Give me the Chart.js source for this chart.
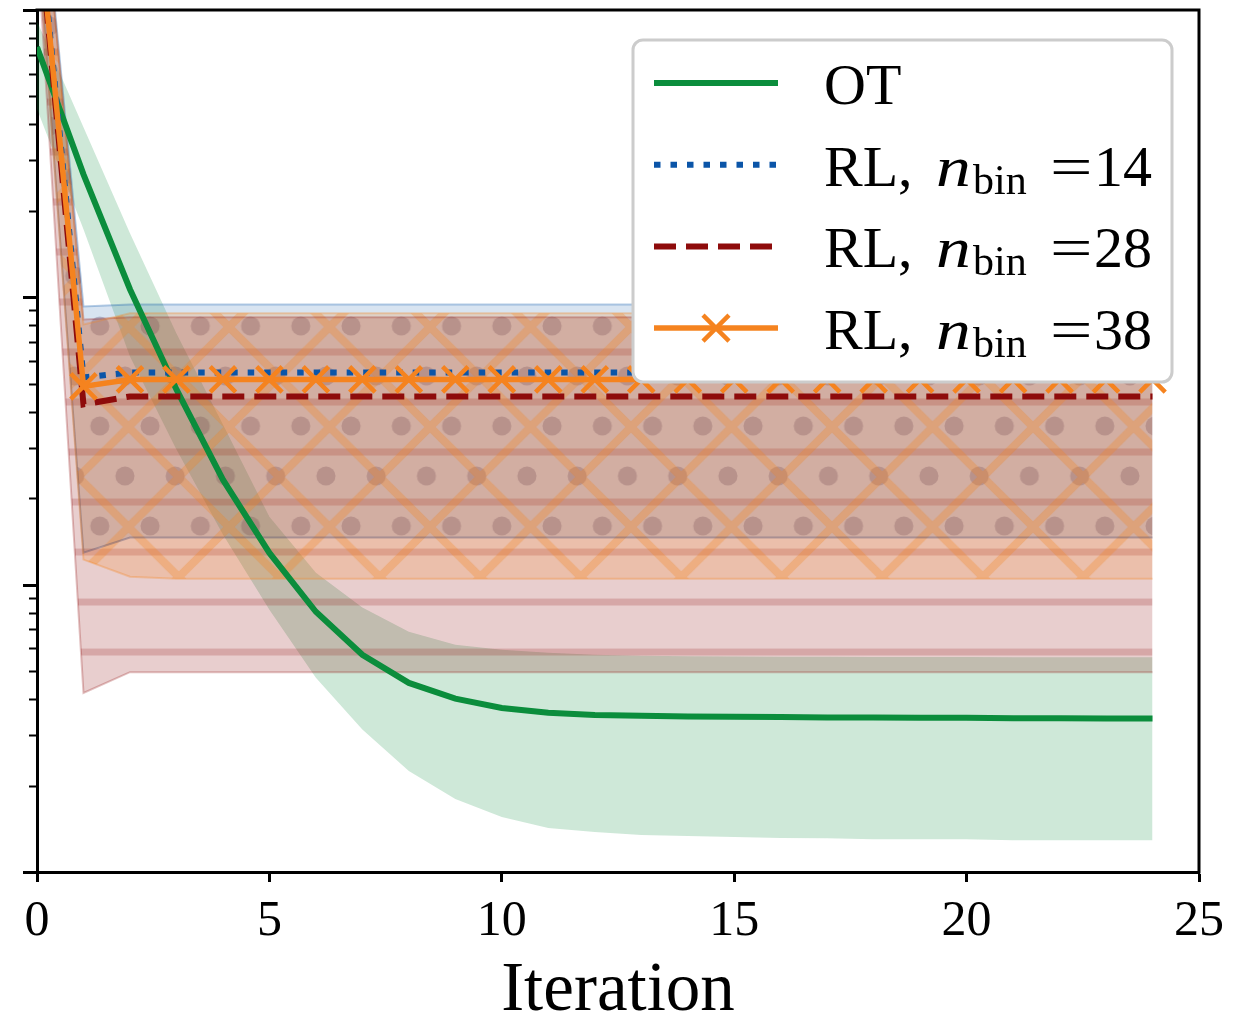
<!DOCTYPE html>
<html>
<head>
<meta charset="utf-8">
<script src="https://cdn.jsdelivr.net/npm/chart.js@4.4.1/dist/chart.umd.min.js"></script>
<style>
  html, body { margin: 0; padding: 0; background: #fff; }
  #wrap { width: 1239px; height: 1017px; position: relative; }
</style>
</head>
<body>
<div id="wrap"><canvas id="chart"></canvas></div>
<script>
const FONT = "'Liberation Serif', 'Times New Roman', serif";

// x axis: iteration index, y axis: log scale over three decades
const iterations = [0, 1, 2, 3, 4, 5, 6, 7, 8, 9, 10, 11, 12, 13, 14, 15, 16, 17, 18, 19, 20, 21, 22, 23, 24];
const xTicks = [0, 5, 10, 15, 20, 25];
const yDecades = [0.001, 0.01, 0.1, 1];
const binCounts = [14, 28, 38];

// OT: mean and spread
const otMean = [0.743, 0.268, 0.1067, 0.0478, 0.0232, 0.0129, 0.00805, 0.0057, 0.00455, 0.00401, 0.00372, 0.00358, 0.00352, 0.00350, 0.00348, 0.00347, 0.00346, 0.00345, 0.00345, 0.00344, 0.00344, 0.00343, 0.00343, 0.00342, 0.00342];
const otHigh = [0.915, 0.391, 0.167, 0.0749, 0.0361, 0.01725, 0.01101, 0.00832, 0.00686, 0.00618, 0.00594, 0.00580, 0.00570, 0.00566, 0.00563, 0.00562, 0.00561, 0.00561, 0.00560, 0.00560, 0.00560, 0.00559, 0.00559, 0.00559, 0.00559];
const otLow = [0.452, 0.1726, 0.0623, 0.02955, 0.01494, 0.00818, 0.00474, 0.00313, 0.002247, 0.001796, 0.001554, 0.001423, 0.001378, 0.001346, 0.001335, 0.001324, 0.001313, 0.00131, 0.00130, 0.00130, 0.00130, 0.00129, 0.00129, 0.00129, 0.00129];

// RL, n_bin = 14
const rl14Mean = [2.4, 0.0526, 0.0548, 0.0548, 0.0548, 0.0548, 0.0548, 0.0548, 0.0548, 0.0548, 0.0548, 0.0548, 0.0548, 0.0548, 0.0548, 0.0548, 0.0548, 0.0548, 0.0548, 0.0548, 0.0548, 0.0548, 0.0548, 0.0548, 0.0548];
const rl14High = [4.5, 0.0930, 0.0945, 0.0945, 0.0945, 0.0945, 0.0945, 0.0945, 0.0945, 0.0945, 0.0945, 0.0945, 0.0945, 0.0945, 0.0945, 0.0945, 0.0945, 0.0945, 0.0945, 0.0945, 0.0945, 0.0945, 0.0945, 0.0945, 0.0945];
const rl14Low = [1.9, 0.01293, 0.01459, 0.01459, 0.01459, 0.01459, 0.01459, 0.01459, 0.01459, 0.01459, 0.01459, 0.01459, 0.01459, 0.01459, 0.01459, 0.01459, 0.01459, 0.01459, 0.01459, 0.01459, 0.01459, 0.01459, 0.01459, 0.01459, 0.01459];

// RL, n_bin = 28
const rl28Mean = [2.3, 0.0424, 0.0452, 0.0452, 0.0452, 0.0452, 0.0452, 0.0452, 0.0452, 0.0452, 0.0452, 0.0452, 0.0452, 0.0452, 0.0452, 0.0452, 0.0452, 0.0452, 0.0452, 0.0452, 0.0452, 0.0452, 0.0452, 0.0452, 0.0452];
const rl28High = [4.4, 0.0838, 0.0852, 0.0852, 0.0852, 0.0852, 0.0852, 0.0852, 0.0852, 0.0852, 0.0852, 0.0852, 0.0852, 0.0852, 0.0852, 0.0852, 0.0852, 0.0852, 0.0852, 0.0852, 0.0852, 0.0852, 0.0852, 0.0852, 0.0852];
const rl28Low = [1.77, 0.00420, 0.00496, 0.00496, 0.00496, 0.00496, 0.00496, 0.00496, 0.00496, 0.00496, 0.00496, 0.00496, 0.00496, 0.00496, 0.00496, 0.00496, 0.00496, 0.00496, 0.00496, 0.00496, 0.00496, 0.00496, 0.00496, 0.00496, 0.00496];

// RL, n_bin = 38
const rl38Mean = [2.35, 0.0490, 0.0518, 0.0518, 0.0518, 0.0518, 0.0518, 0.0518, 0.0518, 0.0518, 0.0518, 0.0518, 0.0518, 0.0518, 0.0518, 0.0518, 0.0518, 0.0518, 0.0518, 0.0518, 0.0518, 0.0518, 0.0518, 0.0518, 0.0518];
const rl38High = [4.4, 0.0805, 0.0880, 0.0880, 0.0880, 0.0880, 0.0880, 0.0880, 0.0880, 0.0880, 0.0880, 0.0880, 0.0880, 0.0880, 0.0880, 0.0880, 0.0880, 0.0880, 0.0880, 0.0880, 0.0880, 0.0880, 0.0880, 0.0880, 0.0880];
const rl38Low = [1.9, 0.01222, 0.01066, 0.01049, 0.01049, 0.01049, 0.01049, 0.01049, 0.01049, 0.01049, 0.01049, 0.01049, 0.01049, 0.01049, 0.01049, 0.01049, 0.01049, 0.01049, 0.01049, 0.01049, 0.01049, 0.01049, 0.01049, 0.01049, 0.01049];

const GREEN = [11, 141, 60], BLUE = [11, 85, 168], DARKRED = [142, 11, 11], ORANGE = [245, 131, 31];
const rgba = (c, a) => `rgba(${c[0]},${c[1]},${c[2]},${a})`;

const canvas = document.getElementById('chart');
const mainCtx = canvas.getContext('2d');

// hatch tiles: a translucent fill plus the hatch marks on top
function makePattern(w, h, draw, tx, ty) {
  const tile = document.createElement('canvas');
  tile.width = w; tile.height = h;
  draw(tile.getContext('2d'), w, h);
  const p = mainCtx.createPattern(tile, 'repeat');
  p.setTransform(new DOMMatrix([1.005, 0, 0, 1, tx, ty]));
  return p;
}
const stripes = makePattern(10, 50, (g, w, h) => {
  g.fillStyle = rgba(DARKRED, 0.2); g.fillRect(0, 0, w, h);
  g.fillStyle = rgba(DARKRED, 0.2); g.fillRect(0, 0, w, 7);
}, 0, -1.5);
const dots = makePattern(50, 100, (g, w, h) => {
  g.fillStyle = rgba(BLUE, 0.16); g.fillRect(0, 0, w, h);
  g.fillStyle = 'rgba(50,50,95,0.24)';
  [[25, 25], [0, 75], [50, 75]].forEach(([x, y]) => { g.beginPath(); g.arc(x, y, 9.5, 0, Math.PI * 2); g.fill(); });
}, 24.4, 1);
const crosses = makePattern(100, 100, (g, w, h) => {
  g.fillStyle = rgba(ORANGE, 0.2); g.fillRect(0, 0, w, h);
  g.strokeStyle = rgba(ORANGE, 0.3); g.lineWidth = 8;
  g.beginPath();
  for (let k = -1; k <= 1; k++) {
    g.moveTo(k * 100, 0); g.lineTo(k * 100 + 100, 100);
    g.moveTo(k * 100 + 100, 0); g.lineTo(k * 100, 100);
  }
  g.stroke();
}, 28, 27);

const pts = arr => iterations.map((x, i) => ({ x, y: arr[i] }));
const edge = (arr, color, width) => ({
  data: pts(arr), borderColor: color, borderWidth: width, pointRadius: 0, fill: false, clip: 0
});

const datasets = [
  { label: 'RL38', data: pts(rl38Mean), borderColor: rgba(ORANGE, 1), borderWidth: 5.5, fill: false, clip: 0,
    pointStyle: 'crossRot', pointRadius: 18, pointBorderWidth: 4.5, pointBorderColor: rgba(ORANGE, 1) },
  { label: 'RL28', data: pts(rl28Mean), borderColor: rgba(DARKRED, 1), borderWidth: 6, borderDash: [22, 10],
    borderCapStyle: 'butt', pointRadius: 0, fill: false, clip: 0 },
  { label: 'RL14', data: pts(rl14Mean), borderColor: rgba(BLUE, 1), borderWidth: 6, borderDash: [6.5, 10],
    borderCapStyle: 'butt', pointRadius: 0, fill: false, clip: 0 },
  { label: 'OT', data: pts(otMean), borderColor: rgba(GREEN, 1), borderWidth: 6, pointRadius: 0, fill: false, clip: 0 },
  edge(rl38Low, rgba(ORANGE, 0.3), 2),
  Object.assign(edge(rl38High, rgba(ORANGE, 0.3), 2), { fill: 4, backgroundColor: crosses }),
  edge(rl28Low, rgba(DARKRED, 0.25), 2),
  Object.assign(edge(rl28High, rgba(DARKRED, 0.25), 2), { fill: 6, backgroundColor: stripes }),
  edge(rl14Low, 'rgba(70,70,110,0.35)', 2),
  Object.assign(edge(rl14High, rgba(BLUE, 0.3), 2), { fill: 8, backgroundColor: dots }),
  edge(otLow, rgba(GREEN, 0), 0),
  Object.assign(edge(otHigh, rgba(GREEN, 0), 0), { fill: 10, backgroundColor: rgba(GREEN, 0.2) })
];

// legend entries, in the order they are listed in the box
const legendRows = [
  { ds: 3, text: 'OT' },
  { ds: 2, bins: binCounts[0] },
  { ds: 1, bins: binCounts[1] },
  { ds: 0, bins: binCounts[2] }
];

const framePlugin = {
  id: 'frame',
  afterDatasetsDraw(chart) {
    const { ctx, chartArea: a, scales: { y } } = chart;
    ctx.save();
    ctx.strokeStyle = '#000';
    ctx.lineWidth = 3;
    ctx.beginPath();
    ctx.moveTo(a.left - 1.5, a.top);
    ctx.lineTo(a.right, a.top);
    ctx.lineTo(a.right, a.bottom + 1.5);
    ctx.stroke();
    // log ticks on the left spine
    const tick = (v, len, w) => {
      const py = Math.round(y.getPixelForValue(v)) + 0.5;
      ctx.lineWidth = w;
      ctx.beginPath(); ctx.moveTo(a.left - len, py); ctx.lineTo(a.left, py); ctx.stroke();
    };
    yDecades.forEach((d, i) => {
      tick(d, 14, 3);
      if (i < yDecades.length - 1) for (let m = 2; m < 10; m++) tick(d * m, 8, 2);
    });
    ctx.restore();
  },
  afterDraw(chart) {
    const { ctx, chartArea: a } = chart;
    const bx = a.right - 566, by = a.top + 30, bw = 539, bh = 342;
    ctx.save();
    ctx.beginPath();
    ctx.roundRect(bx, by, bw, bh, 10);
    ctx.fillStyle = '#fff';
    ctx.fill();
    ctx.lineWidth = 3;
    ctx.strokeStyle = '#cccccc';
    ctx.stroke();

    legendRows.forEach((row, i) => {
      const ds = chart.data.datasets[row.ds];
      const ly = by + 43 + i * 81.7;
      const base = by + 64 + i * 81.5;
      const x0 = bx + 21, x1 = bx + 145;
      ctx.strokeStyle = ds.borderColor;
      ctx.lineWidth = ds.borderWidth;
      ctx.lineCap = 'butt';
      ctx.setLineDash(ds.borderDash || []);
      ctx.beginPath(); ctx.moveTo(x0, ly); ctx.lineTo(x1, ly); ctx.stroke();
      ctx.setLineDash([]);
      if (ds.pointStyle === 'crossRot') {
        const cx = (x0 + x1) / 2, r = 13;
        ctx.lineWidth = ds.pointBorderWidth;
        ctx.beginPath();
        ctx.moveTo(cx - r, ly - r); ctx.lineTo(cx + r, ly + r);
        ctx.moveTo(cx + r, ly - r); ctx.lineTo(cx - r, ly + r);
        ctx.stroke();
      }
      ctx.fillStyle = '#000';
      ctx.textBaseline = 'alphabetic';
      ctx.textAlign = 'left';
      const tx = bx + 191;
      ctx.font = `58px ${FONT}`;
      if (row.text) {
        ctx.fillText(row.text, tx, base);
      } else {
        ctx.fillText('RL,', tx, base);
        // italic n, widened a little
        ctx.save();
        ctx.translate(tx + 112, base);
        ctx.scale(1.2, 1);
        ctx.font = `italic 58px ${FONT}`;
        ctx.fillText('n', 0, 0);
        ctx.restore();
        ctx.font = `42px ${FONT}`;
        ctx.fillText('bin', tx + 149, base + 8);
        ctx.font = `58px ${FONT}`;
        ctx.save();
        ctx.translate(tx + 226, base);
        ctx.scale(1.3, 1);
        ctx.fillText('=', 0, 0);
        ctx.restore();
        ctx.fillText(String(row.bins), tx + 270, base);
      }
    });
    ctx.restore();
  }
};

new Chart(canvas, {
  type: 'line',
  data: { datasets },
  options: {
    responsive: true,
    maintainAspectRatio: false,
    animation: false,
    devicePixelRatio: 1,
    events: [],
    layout: { autoPadding: false, padding: { top: 10, right: 40, left: 0, bottom: 0 } },
    elements: { line: { tension: 0 } },
    plugins: {
      legend: { display: false },
      tooltip: { enabled: false },
      filler: { drawTime: 'beforeDatasetsDraw' }
    },
    scales: {
      x: {
        type: 'linear',
        min: xTicks[0],
        max: xTicks[xTicks.length - 1],
        afterBuildTicks: s => { s.ticks = xTicks.map(v => ({ value: v })); },
        afterFit: s => { s.height = 145; },
        ticks: { color: '#000', padding: 10, maxRotation: 0, font: { family: FONT, size: 50 } },
        grid: { display: true, drawOnChartArea: false, drawTicks: true, tickLength: 10, tickWidth: 3, tickColor: '#000' },
        border: { display: true, color: '#000', width: 3 },
        title: { display: true, text: 'Iteration', color: '#000', padding: { top: 0, bottom: -9 },
          font: { family: FONT, size: 69, lineHeight: 1 } }
      },
      y: {
        type: 'logarithmic',
        min: yDecades[0],
        max: yDecades[yDecades.length - 1],
        afterFit: s => { s.width = 37; },
        ticks: { display: false },
        grid: { display: false, drawTicks: false },
        border: { display: true, color: '#000', width: 3 }
      }
    }
  },
  plugins: [framePlugin]
});
</script>
</body>
</html>
